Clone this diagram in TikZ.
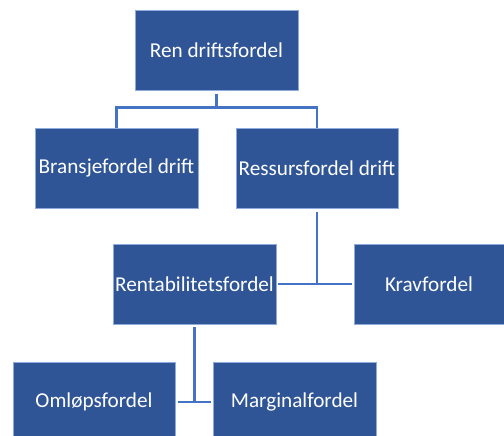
\documentclass[tikz,border=0pt]{standalone}
\usepackage{fontspec}
\setmainfont{Carlito}
\definecolor{boxblue}{HTML}{2F5597}
\definecolor{edgeblue}{HTML}{4472C4}
\begin{document}
\begin{tikzpicture}[x=1pt,y=1pt,
  unit/.style={rectangle, fill=boxblue, draw=edgeblue!60!white, line width=0.6pt,
    minimum height=80pt, inner sep=0pt, text=white,
    font=\fontsize{21.2}{25}\selectfont},
  conn/.style={draw=edgeblue, line width=2.6pt}]
\useasboundingbox (0,0) rectangle (504,436);

% organisation boxes
\node[unit, minimum width=163pt] (ren)   at (216.5,386) {Ren driftsfordel};
\node[unit, minimum width=163pt] (bra)   at (116.5,268) {Bransjefordel drift};
\node[unit, minimum width=162pt] (res)   at (317,268)   {Ressursfordel drift};
\node[unit, minimum width=163pt] (rent)  at (194.5,152) {Rentabilitetsfordel};
\node[unit, minimum width=150pt] (krav)  at (429,152)   {Kravfordel};
\node[unit, minimum width=162pt] (oml)   at (94,34)     {Omløpsfordel};
\node[unit, minimum width=163pt] (marg)  at (294.5,34)  {Marginalfordel};

% top level branch
\draw[conn] ([yshift=-4pt]ren.south) -- ++(0,-14);
\draw[conn] (bra.north) -- ++(0,20) -| (res.north);

% resource branch
\draw[conn] ([yshift=-4pt]res.south) -- (res.south |- rent.east);
\draw[conn] ([xshift=2pt]rent.east) -- ([xshift=-2pt]krav.west);

% profitability branch
\draw[conn] ([yshift=-3pt]rent.south) -- (rent.south |- oml.east);
\draw[conn] ([xshift=3pt]oml.east) -- ([xshift=-2pt]marg.west);
\end{tikzpicture}
\end{document}
